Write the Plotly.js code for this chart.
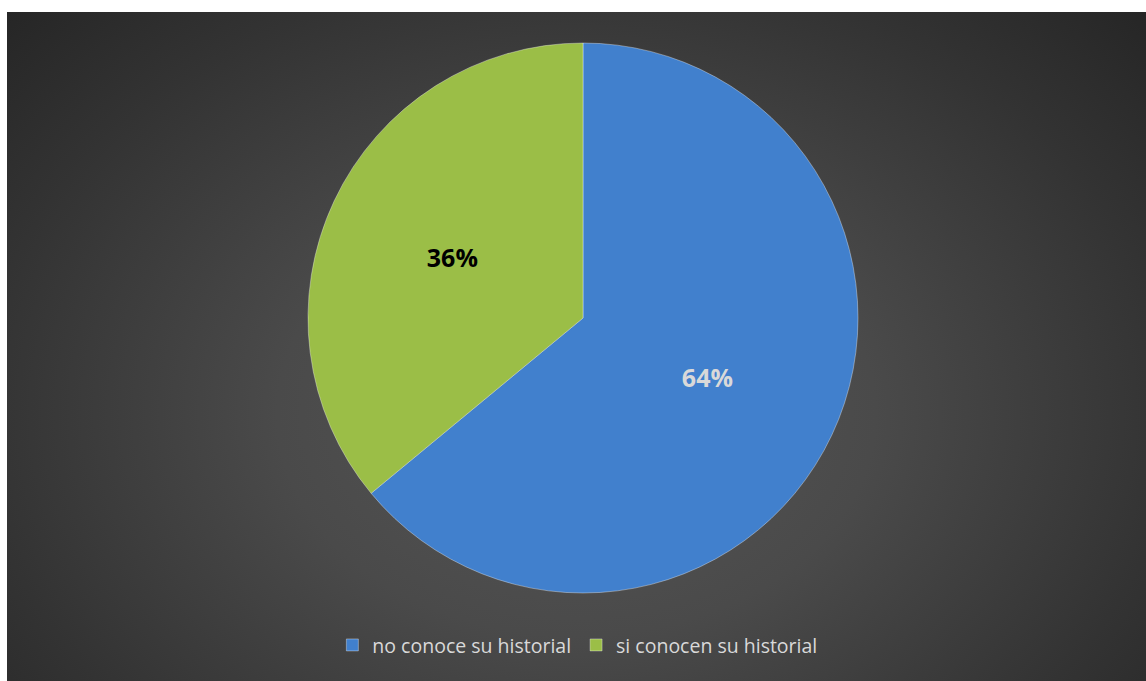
<!DOCTYPE html>
<html>
<head>
<meta charset="utf-8">
<script src="https://cdn.plot.ly/plotly-3.0.1.min.js"></script>
<style>
  html, body { margin: 0; padding: 0; background: #ffffff; }
  #bg { position: absolute; left: 7px; top: 12px; width: 1139px; height: 669px;
        background: radial-gradient(ellipse 75% 95% at 50% 60%, #565656 0%, #4a4a4a 35%, #333333 70%, #212121 100%); }
  #chart { position: absolute; left: 0; top: 0; width: 1146px; height: 681px; }
</style>
</head>
<body>
<div id="bg"></div>
<div id="chart"></div>
<script>
const categories = ["no conoce su historial", "si conocen su historial"];
const values = [64, 36];
const sliceColors = ["#4180cd", "#9bbe47"];
const textColors = ["#d9d9d9", "#000000"];

const data = [{
  type: "pie",
  labels: categories,
  values: values,
  sort: false,
  direction: "clockwise",
  rotation: 0,
  marker: { colors: sliceColors, line: { color: "rgba(255,255,255,0.35)", width: 1 } },
  textinfo: "percent",
  texttemplate: "<b>%{percent:.0%}</b>",
  textposition: "inside",
  insidetextorientation: "horizontal",
  insidetextfont: { family: "Open Sans, sans-serif", size: 25, color: textColors },
  hoverinfo: "label+percent",
  domain: { x: [0, 1], y: [0, 1] }
}];

const layout = {
  width: 1146,
  height: 681,
  margin: { l: 20, r: 0, t: 43, b: 88 },
  paper_bgcolor: "rgba(0,0,0,0)",
  plot_bgcolor: "rgba(0,0,0,0)",
  showlegend: true,
  legend: {
    orientation: "h",
    x: 0.495, xanchor: "center",
    y: -0.095, yanchor: "middle",
    font: { family: "Open Sans, sans-serif", size: 19.5, color: "#d9d9d9" },
    itemwidth: 30,
    traceorder: "normal"
  }
};

Plotly.newPlot("chart", data, layout, { displayModeBar: false, staticPlot: true });
</script>
</body>
</html>
